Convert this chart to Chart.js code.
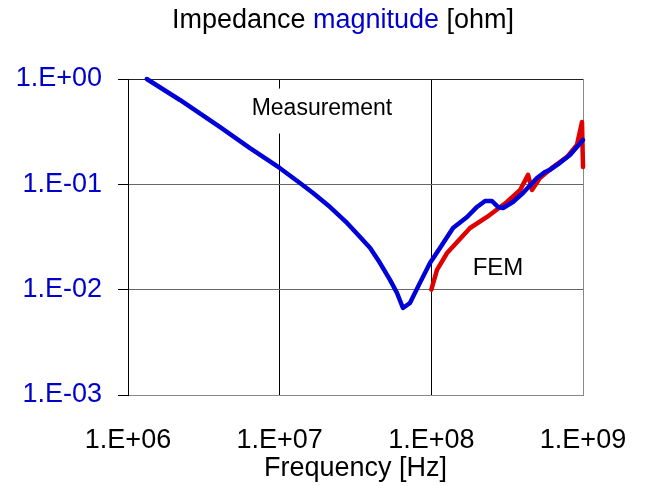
<!DOCTYPE html>
<html>
<head>
<meta charset="utf-8">
<script src="https://cdn.jsdelivr.net/npm/chart.js@4/dist/chart.umd.min.js"></script>
<style>
  html, body { margin: 0; padding: 0; background: #fff; }
  #wrap { width: 645px; height: 486px; }
</style>
</head>
<body>
<div id="wrap"><canvas id="chart" width="645" height="486"></canvas></div>
<script>
// Data (frequency in Hz, impedance in ohm)
const measFreq = [1.33e6, 2.2e6, 4.05e6, 6.37e6, 1.0e7, 1.36e7, 1.66e7, 2.15e7, 2.78e7, 3.39e7,
                  3.95e7, 4.59e7, 5.34e7, 5.94e7, 6.5e7, 7.23e7, 8.41e7, 9.8e7, 1.14e8, 1.39e8,
                  1.72e8, 2.0e8, 2.26e8, 2.51e8, 2.75e8, 2.97e8, 3.45e8, 4.02e8, 4.97e8, 5.61e8,
                  6.05e8, 7.05e8, 8.2e8, 1.0e9];
const measZ    = [1.0, 0.632, 0.35, 0.221, 0.143, 0.103, 0.0827, 0.0609, 0.043, 0.0316,
                  0.0249, 0.0179, 0.0124, 0.00929, 0.0067, 0.00747, 0.0116, 0.0179, 0.0249, 0.0385,
                  0.049, 0.061, 0.0695, 0.0695, 0.061, 0.0596, 0.068, 0.0827, 0.115, 0.131,
                  0.137, 0.16, 0.19, 0.264];

const femFreq = [1.0e8, 1.09e8, 1.27e8, 1.8e8, 2.33e8, 3.15e8, 3.85e8, 4.34e8, 4.61e8, 5.2e8,
                 6.34e8, 7.85e8, 9.12e8, 9.85e8, 1.0e9];
const femZ    = [0.01, 0.0154, 0.0223, 0.0385, 0.049, 0.068, 0.0883, 0.123, 0.0883, 0.115,
                 0.146, 0.182, 0.236, 0.391, 0.146];

const xTicks = [1e6, 1e7, 1e8, 1e9];
const xTickLabels = ['1.E+06', '1.E+07', '1.E+08', '1.E+09'];
const yTicks = [1e-3, 1e-2, 1e-1, 1];
const yTickLabels = ['1.E-03', '1.E-02', '1.E-01', '1.E+00'];

const BLUE = '#0000cc';
const FONT = "'Liberation Sans', Arial, sans-serif";

function toPoints(xs, ys) {
    return xs.map((x, i) => ({ x: x, y: ys[i] }));
}

// title with coloured middle word + in-plot labels
const textPlugin = {
    id: 'texts',
    beforeDatasetsDraw(chart) {
        const ctx = chart.ctx;
        const xs = chart.scales.x, ys = chart.scales.y;
        ctx.save();
        ctx.font = '23px ' + FONT;
        ctx.textAlign = 'center';
        ctx.textBaseline = 'middle';
        // Measurement label sits in a white box that hides the grid
        let px = xs.getPixelForValue(1.9e7), py = ys.getPixelForValue(0.524);
        const w = ctx.measureText('Measurement').width;
        ctx.fillStyle = '#fff';
        ctx.fillRect(px - w / 2 - 6, py - 20, w + 12, 45);
        ctx.fillStyle = '#000';
        ctx.fillText('Measurement', px, py);
        ctx.font = '24px ' + FONT;
        px = xs.getPixelForValue(2.75e8); py = ys.getPixelForValue(0.0158);
        ctx.fillText('FEM', px, py);
        ctx.restore();
    },
    afterDraw(chart) {
        const ctx = chart.ctx;
        const parts = [['Impedance ', '#000'], ['magnitude', BLUE], [' [ohm]', '#000']];
        ctx.save();
        ctx.font = '27px ' + FONT;
        ctx.textBaseline = 'alphabetic';
        ctx.textAlign = 'left';
        const total = parts.reduce((s, p) => s + ctx.measureText(p[0]).width, 0);
        let x = 343 - total / 2;
        parts.forEach(p => {
            ctx.fillStyle = p[1];
            ctx.fillText(p[0], x, 28);
            x += ctx.measureText(p[0]).width;
        });
        ctx.restore();
    }
};

const ctx = document.getElementById('chart').getContext('2d');
new Chart(ctx, {
    type: 'line',
    data: {
        datasets: [{
            label: 'Measurement',
            data: toPoints(measFreq, measZ),
            borderColor: '#0000d8',
            borderWidth: 4.5,
            pointRadius: 0,
            tension: 0,
            borderJoinStyle: 'round',
            borderCapStyle: 'round',
            clip: false
        }, {
            label: 'FEM',
            data: toPoints(femFreq, femZ),
            borderColor: '#e00000',
            borderWidth: 4.5,
            pointRadius: 0,
            tension: 0,
            borderJoinStyle: 'round',
            borderCapStyle: 'round',
            clip: false
        }]
    },
    options: {
        responsive: false,
        animation: false,
        layout: { padding: { left: 0, top: 79, right: 62, bottom: 0 } },
        plugins: {
            legend: { display: false },
            tooltip: { enabled: false },
            title: { display: false }
        },
        scales: {
            x: {
                type: 'logarithmic',
                min: 1e6,
                max: 1e9,
                afterBuildTicks: s => { s.ticks = xTicks.map(v => ({ value: v })); },
                afterFit: s => { s.height = 91; s.paddingLeft = 0; s.paddingRight = 0; },
                ticks: {
                    font: { family: FONT, size: 27 },
                    color: '#000',
                    padding: 29,
                    maxRotation: 0,
                    autoSkip: false,
                    callback: v => xTickLabels[xTicks.indexOf(v)]
                },
                grid: {
                    drawTicks: false,
                    color: c => (c.tick && c.tick.value === 1e9) ? '#888' : '#000',
                    lineWidth: 1
                },
                border: { display: true, color: '#888', width: 1 },
                title: {
                    display: true,
                    text: 'Frequency [Hz]',
                    color: '#000',
                    font: { family: FONT, size: 27 },
                    padding: { top: 0, bottom: 1 }
                }
            },
            y: {
                type: 'logarithmic',
                min: 1e-3,
                max: 1,
                afterBuildTicks: s => { s.ticks = yTicks.map(v => ({ value: v })); },
                afterFit: s => { s.width = 128; s.paddingTop = 0; s.paddingBottom = 0; },
                ticks: {
                    font: { family: FONT, size: 27 },
                    color: BLUE,
                    padding: 16,
                    autoSkip: false,
                    callback: v => yTickLabels[yTicks.indexOf(v)]
                },
                grid: {
                    drawTicks: true,
                    tickLength: 10,
                    tickColor: '#000',
                    color: c => (c.tick && c.tick.value === 1) ? '#222' : '#666',
                    lineWidth: 1
                },
                border: { display: true, color: '#000', width: 1 }
            }
        }
    },
    plugins: [textPlugin]
});
</script>
</body>
</html>
